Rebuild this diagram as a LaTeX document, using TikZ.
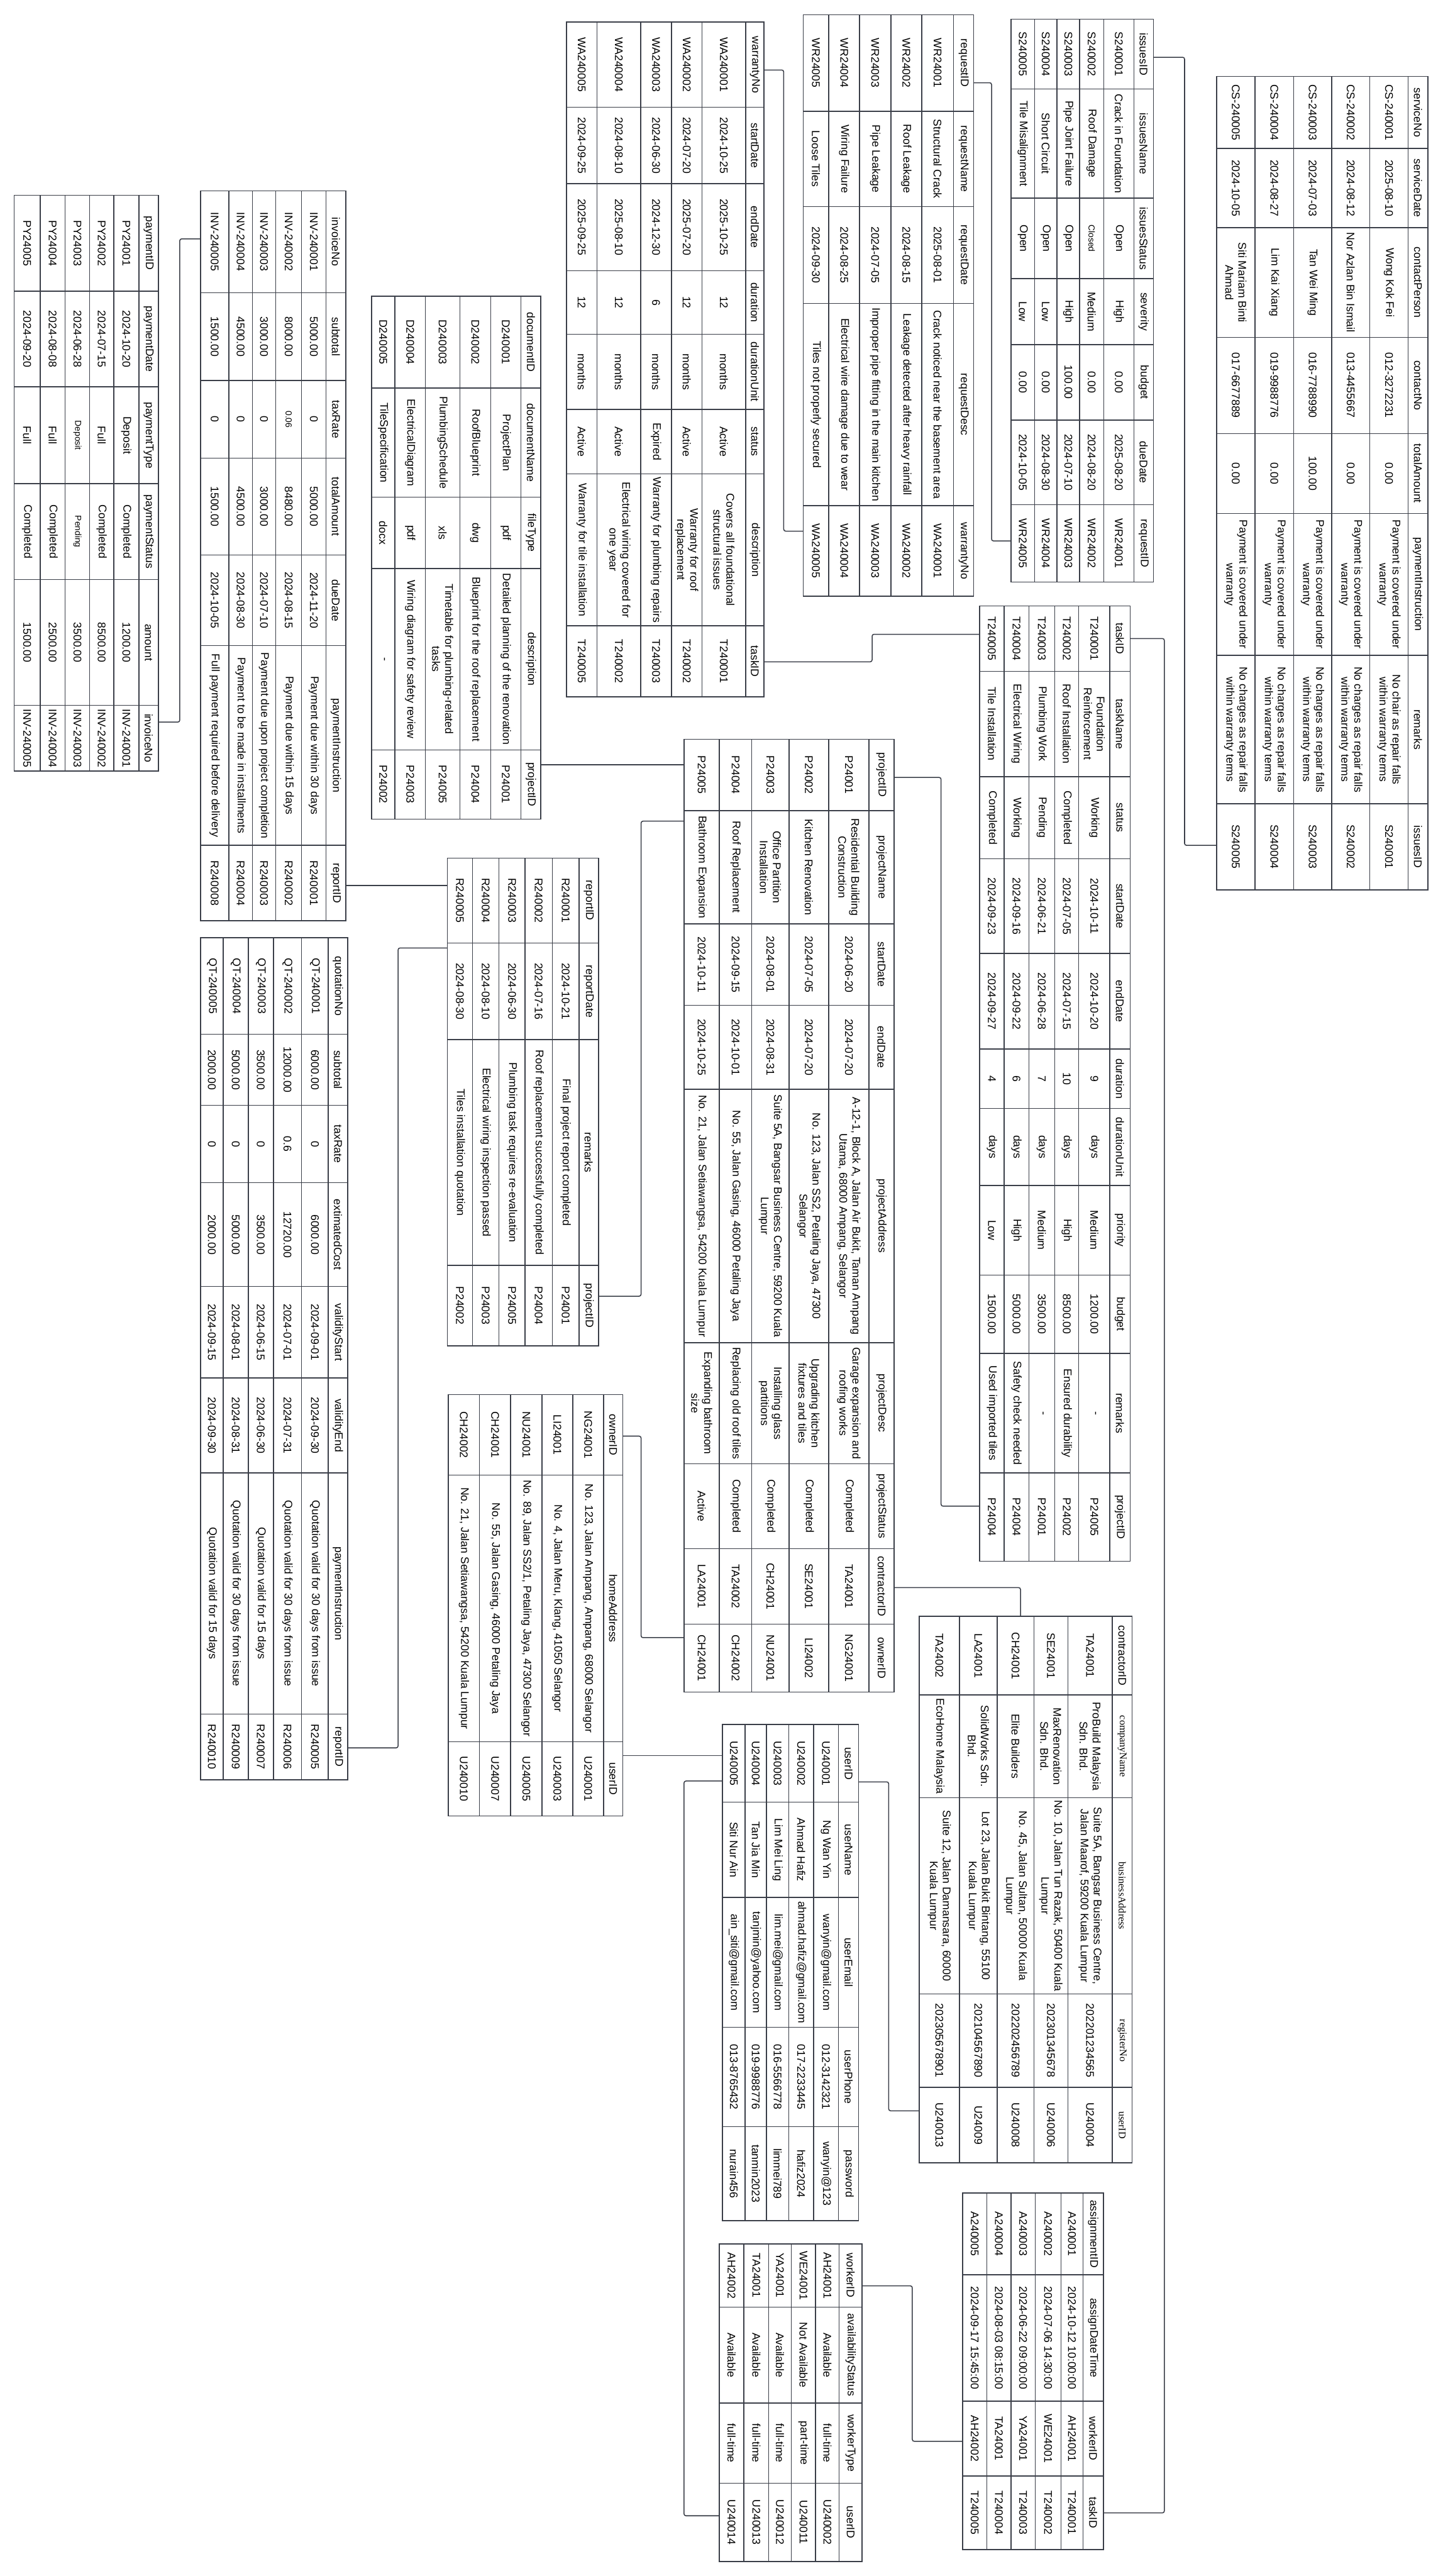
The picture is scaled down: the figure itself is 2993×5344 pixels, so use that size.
\documentclass[tikz,border=0pt]{standalone}
\usepackage{fontspec}
\setmainfont{Liberation Sans}
\newfontfamily\serifa{Liberation Serif}
\definecolor{lc}{RGB}{58,62,72}
\newcommand\sm[1]{{\fontsize{18}{21}\selectfont #1}}
\newcommand\sr[1]{{\serifa\fontsize{21}{24}\selectfont #1}}
\tikzset{
 gline/.style={draw=lc, line width=2pt, line cap=rect},
 cell/.style={rotate=-90, inner sep=0pt, align=center, font=\fontsize{23}{27}\selectfont, text=black},
 conn/.style={draw=lc, line width=2pt, rounded corners=4pt},
}
\newcommand{\tbl}[4]{%
  \foreach \v [count=\n] in {#2} {\expandafter\xdef\csname tx\n\endcsname{\v}\xdef\tblnx{\n}}%
  \foreach \v [count=\n] in {#3} {\expandafter\xdef\csname ty\n\endcsname{\v}\xdef\tblny{\n}}%
  \edef\xr{\csname tx1\endcsname}%
  \edef\xl{\csname tx\tblnx\endcsname}%
  \edef\yt{\csname ty1\endcsname}%
  \edef\yb{\csname ty\tblny\endcsname}%
  \foreach \v in {#2} {\draw[gline] (\v,\yt) -- (\v,\yb);}%
  \foreach \v in {#3} {\draw[gline] (\xr,\v) -- (\xl,\v);}%
  \foreach \row [count=\r] in {#4} {%
    \pgfmathtruncatemacro\rr{\r+1}%
    \pgfmathsetmacro\xc{(\csname tx\r\endcsname+\csname tx\rr\endcsname)/2}%
    \foreach \c [count=\k] in \row {%
      \pgfmathtruncatemacro\kk{\k+1}%
      \pgfmathsetmacro\yc{(\csname ty\k\endcsname+\csname ty\kk\endcsname)/2}%
      \node[cell] (#1-\r-\k) at (\xc,\yc) {\c};%
    }%
  }%
}
\begin{document}
\begin{tikzpicture}[x=1pt,y=-1pt]
\fill[white] (0,0) rectangle (2993,5344);
\useasboundingbox (0,0) rectangle (2993,5344);

% service
\tbl{svc}{2962.6,2921.9,2842.5,2763,2684.2,2604.1,2524.6}{158.4,308,472.6,699.7,899.5,1065,1359.8,1667.4,1846.1}{
{serviceNo,serviceDate,contactPerson,contactNo,totalAmount,paymentInstruction,remarks,issuesID},
{CS-240001,2025-08-10,Wong Kok Fei,012-3272231,0.00,Payment is covered under\\warranty,No chair as repair falls\\within warranty terms,S240001},
{CS-240002,2024-08-12,Nor Azlan Bin Ismail,013-4455667,0.00,Payment is covered under\\warranty,No charges as repair falls\\within warranty terms,S240002},
{CS-240003,2024-07-03,Tan Wei Ming,016-7788990,100.00,Payment is covered under\\warranty,No charges as repair falls\\within warranty terms,S240003},
{CS-240004,2024-08-27,Lim Kai Xiang,019-9988776,0.00,Payment is covered under\\warranty,No charges as repair falls\\within warranty terms,S240004},
{CS-240005,2024-10-05,Siti Mariam Binti\\Ahmad,017-6677889,0.00,Payment is covered under\\warranty,No charges as repair falls\\within warranty terms,S240005}}

% issues
\tbl{iss}{2393.5,2352.8,2290.1,2240.3,2193.2,2146.7,2097.6}{39.6,184.8,411,578.2,714.7,871.3,1047.3,1207.5}{
{issuesID,issuesName,issuesStatus,severity,budget,dueDate,requestID},
{S240001,Crack in Foundation,Open,High,0.00,2025-08-20,WR24001},
{S240002,Roof Damage,\sm{Closed},Medium,0.00,2024-08-20,WR24002},
{S240003,Pipe Joint Failure,Open,High,100.00,2024-07-10,WR24003},
{S240004,Short Circuit,Open,Low,0.00,2024-08-30,WR24004},
{S240005,Tile Misalignment,Open,Low,0.00,2024-10-05,WR24005}}

% request
\tbl{req}{2020,1978.8,1912.4,1848.7,1783.6,1719.8,1666.5}{30.8,230.6,428.6,629.3,1049.1,1236.6}{
{requestID,requestName,requestDate,requestDesc,warrantyNo},
{WR24001,Structural Crack,2025-08-01,Crack noticed near the basement area,WA240001},
{WR24002,Roof Leakage,2024-08-15,Leakage detected after heavy rainfall,WA240002},
{WR24003,Pipe Leakage,2024-07-05,Improper pipe fitting in the main kitchen,WA240003},
{WR24004,Wiring Failure,2024-08-25,Electrical wire damage due to wear,WA240004},
{WR24005,Loose Tiles,2024-09-30,Tiles not properly secured,WA240005}}

% warranty
\tbl{war}{1585.2,1547.5,1456.4,1393.3,1329.6,1238.5,1175.4}{45.8,222.7,381.1,561.5,693.5,849.3,983.1,1298.2,1445.6}{
{warrantyNo,startDate,endDate,duration,durationUnit,status,description,taskID},
{WA240001,2024-10-25,2025-10-25,12,months,Active,Covers all foundational\\structural issues,T240001},
{WA240002,2024-07-20,2025-07-20,12,months,Active,Warranty for roof\\replacement,T240002},
{WA240003,2024-06-30,2024-12-30,6,months,Expired,Warranty for plumbing repairs,T240003},
{WA240004,2024-08-10,2025-08-10,12,months,Active,Electrical wiring covered for\\one year,T240002},
{WA240005,2024-09-25,2025-09-25,12,months,Active,Warranty for tile installation,T240005}}

% task
\tbl{tsk}{2345,2303,2238.4,2188.7,2135,2083.4,2033}{1256.8,1392.8,1611,1781.8,1978,2176.1,2299.3,2459.5,2645.2,2807.6,3055.8,3238.9}{
{taskID,taskName,status,startDate,endDate,duration,durationUnit,priority,budget,remarks,projectID},
{T240001,Foundation\\Reinforcement,Working,2024-10-11,2024-10-20,9,days,Medium,1200.00,-,P24005},
{T240002,Roof Installation,Completed,2024-07-05,2024-07-15,10,days,High,8500.00,Ensured durability,P24002},
{T240003,Plumbing Work,Pending,2024-06-21,2024-06-28,7,days,Medium,3500.00,-,P24001},
{T240004,Electrical Wiring,Working,2024-09-16,2024-09-22,6,days,High,5000.00,Safety check needed,P24004},
{T240005,Tile Installation,Completed,2024-09-23,2024-09-27,4,days,Low,1500.00,Used imported tiles,P24004}}

% project
\tbl{prj}{1855.2,1803.1,1719.8,1637.2,1559.8,1492.8,1419.3}{1533.6,1681.5,1916.5,2085.5,2259.7,2785.6,3036.4,3212.5,3369.1,3510}{
{projectID,projectName,startDate,endDate,projectAddress,projectDesc,projectStatus,contractorID,ownerID},
{P24001,Residential Building\\Construction,2024-06-20,2024-07-20,{A-12-1, Block A, Jalan Air Bukit, Taman Ampang\\Utama, 68000 Ampang, Selangor},Garage expansion and\\roofing works,Completed,TA24001,NG24001},
{P24002,Kitchen Renovation,2024-07-05,2024-07-20,{No. 123, Jalan SS2, Petaling Jaya, 47300\\Selangor},Upgrading kitchen\\fixtures and tiles,Completed,SE24001,LI24002},
{P24003,Office Partition\\Installation,2024-08-01,2024-08-31,{Suite 5A, Bangsar Business Centre, 59200 Kuala\\Lumpur},Installing glass\\partitions,Completed,CH24001,NU24001},
{P24004,Roof Replacement,2024-09-15,2024-10-01,{No. 55, Jalan Gasing, 46000 Petaling Jaya},Replacing old roof tiles,Completed,TA24002,CH24002},
{P24005,Bathroom Expansion,2024-10-11,2024-10-25,{No. 21, Jalan Setiawangsa, 54200 Kuala Lumpur},Expanding bathroom\\size,Active,LA24001,CH24001}}

% document
\tbl{doc}{1122.1,1081.1,1018,954.3,882.7,819.6,770.8}{614.3,805.3,1031.5,1179.4,1555.6,1699.1}{
{documentID,documentName,fileType,description,projectID},
{D240001,ProjectPlan,pdf,Detailed planning of the renovation,P24001},
{D240002,RoofBlueprint,dwg,Blueprint for the roof replacement,P24004},
{D240003,PlumbingSchedule,xls,Timetable for plumbing-related\\tasks,P24005},
{D240004,ElectricalDiagram,pdf,Wiring diagram for safety review,P24003},
{D240005,TileSpecification,docx,-,P24002}}

% report
\tbl{rep}{1241.7,1201.4,1146.1,1089.5,1035.5,980.3,928.3}{1780,1956.1,2156.8,2625,2791.8}{
{reportID,reportDate,remarks,projectID},
{R240001,2024-10-21,Final project report completed,P24001},
{R240002,2024-07-16,Roof replacement successfully completed,P24004},
{R240003,2024-06-30,Plumbing task requires re-evaluation,P24005},
{R240004,2024-08-10,Electrical wiring inspection passed,P24003},
{R240005,2024-08-30,Tiles installation quotation,P24002}}

% invoice
\tbl{inv}{717.5,676.5,625.8,572.4,523.6,474.9,416.3}{396,607.3,789.5,950.5,1151.2,1339.5,1753.7,1910.3}{
{invoiceNo,subtotal,taxRate,totalAmount,dueDate,paymentInstruction,reportID},
{INV-240001,5000.00,0,5000.00,2024-11-20,Payment due within 30 days,R240001},
{INV-240002,8000.00,\sm{0.06},8480.00,2024-08-15,Payment due within 15 days,R240002},
{INV-240003,3000.00,0,3000.00,2024-07-10,Payment due upon project completion,R240003},
{INV-240004,4500.00,0,4500.00,2024-08-30,Payment to be made in installments,R240004},
{INV-240005,1500.00,0,1500.00,2024-10-05,Full payment required before delivery,R240008}}

% payment
\tbl{pay}{328.5,288.2,236.1,186.0,135.3,83.3,29.3}{405,603.8,802.7,1003.3,1202.3,1463.2,1599.6}{
{paymentID,paymentDate,paymentType,paymentStatus,amount,invoiceNo},
{PY24001,2024-10-20,Deposit,Completed,1200.00,INV-240001},
{PY24002,2024-07-15,Full,Completed,8500.00,INV-240002},
{PY24003,2024-06-28,\sm{Deposit},\sm{Pending},3500.00,INV-240003},
{PY24004,2024-08-08,Full,Completed,2500.00,INV-240004},
{PY24005,2024-09-20,Full,Completed,1500.00,INV-240005}}

% quotation
\tbl{quo}{721.4,681.1,625.8,567.2,515.2,463.2,416.3}{1945.5,2145.3,2293.2,2453.3,2669.0,2858.7,3055.8,3555.7,3692.1}{
{quotationNo,subtotal,taxRate,extimatedCost,validityStart,validityEnd,paymentInstruction,reportID},
{QT-240001,6000.00,0,6000.00,2024-09-01,2024-09-30,Quotation valid for 30 days from issue,R240005},
{QT-240002,12000.00,0.6,12720.00,2024-07-01,2024-07-31,Quotation valid for 30 days from issue,R240006},
{QT-240003,3500.00,0,3500.00,2024-06-15,2024-06-30,Quotation valid for 15 days,R240007},
{QT-240004,5000.00,0,5000.00,2024-08-01,2024-08-31,Quotation valid for 30 days from issue,R240009},
{QT-240005,2000.00,0,2000.00,2024-09-15,2024-09-30,Quotation valid for 15 days,R240010}}

% owner
\tbl{own}{1292.5,1252.2,1188.4,1124.7,1059.6,995,930.2}{2893,3060.2,3613,3767}{
{ownerID,homeAddress,userID},
{NG24001,{No. 123, Jalan Ampang, Ampang, 68000 Selangor},U240001},
{LI24001,{No. 4, Jalan Meru, Klang, 41050 Selangor},U240003},
{NU24001,{No. 89, Jalan SS2/1, Petaling Jaya, 47300 Selangor},U240005},
{CH24001,{No. 55, Jalan Gasing, 46000 Petaling Jaya},U240007},
{CH24002,{No. 21, Jalan Setiawangsa, 54200 Kuala Lumpur},U240010}}

% user
\tbl{usr}{1781.6,1740,1688,1636.6,1590.4,1546.2,1499.3}{3577.7,3738.8,3936,4205.8,4411.8,4606.9}{
{userID,userName,userEmail,userPhone,password},
{U240001,Ng Wan Yin,wanyin@gmail.com,012-3142321,wanyin@123},
{U240002,Ahmad Hafiz,ahmad.hafiz@gmail.com,017-2233445,hafiz2024},
{U240003,Lim Mei Ling,lim.mei@gmail.com,016-5566778,limmei789},
{U240004,Tan Jia Min,tanjmin@yahoo.com,019-9988776,tanmin2023},
{U240005,Siti Nur Ain,ain\_siti@gmail.com,013-8765432,nurain456}}

% worker
\tbl{wrk}{1788.8,1741.3,1692.5,1641.8,1595,1543.6,1492.2}{4655,4785.9,4985.1,5151.5,5313.6}{
{workerID,availabilityStatus,workerType,userID},
{AH24001,Available,full-time,U240002},
{WE24001,Not Available,part-time,U240011},
{YA24001,Available,full-time,U240012},
{TA24001,Available,full-time,U240013},
{AH24002,Available,full-time,U240014}}

% assignment
\tbl{asg}{2289.5,2247.5,2201.6,2148,2097.6,2047.8,1997.4}{4549.4,4719.2,4980.9,5136.3,5289.1}{
{assignmentID,assignDateTime,workerID,taskID},
{A240001,2024-10-12 10:00:00,AH24001,T240001},
{A240002,2024-07-06 14:30:00,WE24001,T240002},
{A240003,2024-06-22 09:00:00,YA24001,T240003},
{A240004,2024-08-03 08:15:00,TA24001,T240004},
{A240005,2024-09-17 15:45:00,AH24002,T240005}}

% contractor
\tbl{con}{2348.9,2308.2,2215.8,2145.4,2069.2,1991,1907.2}{3353.3,3516.1,3729.1,4136.5,4329.9,4487}{
{contractorID,\sr{companyName},\sr{businessAddress},\sr{registerNo},\sr{userID}},
{TA24001,ProBuild Malaysia\\Sdn. Bhd.,{Suite 5A, Bangsar Business Centre,\\Jalan Maarof, 59200 Kuala Lumpur},202201234565,U240004},
{SE24001,MaxRenovation\\Sdn. Bhd.,{No. 10, Jalan Tun Razak, 50400 Kuala\\Lumpur},202301345678,U240006},
{CH24001,Elite Builders,{No. 45, Jalan Sultan, 50000 Kuala\\Lumpur},202202456789,U240008},
{LA24001,SolidWorks Sdn.\\Bhd.,{Lot 23, Jalan Bukit Bintang, 55100\\Kuala Lumpur},202104567890,U24009},
{TA24002,EcoHome Malaysia,{Suite 12, Jalan Damansara, 60000\\Kuala Lumpur},202305678901,U240013}}

% connector end points
\coordinate (payA) at (328.5,1498);   \coordinate (invB) at (416.3,495.5);
\coordinate (invA) at (717.5,1837);   \coordinate (repB) at (928.3,1837);
\coordinate (quoA) at (721.4,3626);   \coordinate (repC) at (928.3,1966.6);
\coordinate (docA) at (1122.1,1586.4); \coordinate (prjB) at (1419.3,1586.4);
\coordinate (repA) at (1241.7,2689);  \coordinate (prjC) at (1419.3,1703.5);
\coordinate (prjA) at (1855.2,1612.8); \coordinate (tskB) at (2033,3124.5);
\coordinate (prjD) at (1855.2,3293.5); \coordinate (conB) at (2117.6,3353.3);
\coordinate (ownA) at (1292.5,2979.2); \coordinate (prjE) at (1419.3,3397.3);
\coordinate (ownB) at (1292.5,3642);  \coordinate (usrB) at (1499.3,3642);
\coordinate (usrA) at (1781.6,3696.5); \coordinate (conC) at (1907.2,4378.9);
\coordinate (usrC) at (1499.3,3694.8); \coordinate (wrkB) at (1492.2,5219);
\coordinate (wrkA) at (1788.8,4742);  \coordinate (asgB) at (1997.4,5064.5);
\coordinate (tskA) at (2345,1324.6);  \coordinate (asgA) at (2289.5,5213);
\coordinate (warA) at (1585.2,1373);  \coordinate (tskC) at (2033,1315.8);
\coordinate (warB) at (1585.2,145.2); \coordinate (reqB) at (1666.5,1101.9);
\coordinate (reqA) at (2020,171.6);   \coordinate (issB) at (2097.6,1122.2);
\coordinate (issA) at (2393.5,118.8); \coordinate (svcB) at (2524.6,1753.7);

\draw[conn] (payA) -- (373,1498) -- (373,495.5) -- (invB);
\draw[conn] (invA) -- (repB);
\draw[conn] (quoA) -- (826,3626) -- (826,1966.6) -- (repC);
\draw[conn] (docA) -- (prjB);
\draw[conn] (repA) -- (1330.2,2689) -- (1330.2,1703.5) -- (prjC);
\draw[conn] (prjA) -- (1952.7,1612.8) -- (1952.7,3124.5) -- (tskB);
\draw[conn] (prjD) -- (2117.6,3293.5) -- (conB);
\draw[conn] (ownA) -- (1330.2,2979.2) -- (1330.2,3397.3) -- (prjE);
\draw[conn] (ownB) -- (usrB);
\draw[conn] (usrA) -- (1844,3696.5) -- (1844,4378.9) -- (conC);
\draw[conn] (usrC) -- (1419.3,3694.8) -- (1419.3,5219) -- (wrkB);
\draw[conn] (wrkA) -- (1893,4742) -- (1893,5064.5) -- (asgB);
\draw[conn] (tskA) -- (2416,1324.6) -- (2416,5213) -- (asgA);
\draw[conn] (warA) -- (1809.6,1373) -- (1809.6,1315.8) -- (tskC);
\draw[conn] (warB) -- (1626.2,145.2) -- (1626.2,1101.9) -- (reqB);
\draw[conn] (reqA) -- (2057.5,171.6) -- (2057.5,1122.2) -- (issB);
\draw[conn] (issA) -- (2458,118.8) -- (2458,1753.7) -- (svcB);
\end{tikzpicture}
\end{document}
